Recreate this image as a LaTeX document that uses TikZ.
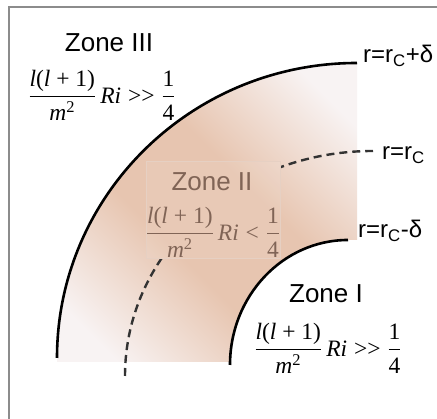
\documentclass[tikz,border=0pt]{standalone}
\usepackage{amsmath}
\usepackage{fontspec}
\setmainfont{Liberation Serif}
\newfontfamily\hv{Liberation Sans}
\definecolor{peach}{RGB}{231,197,176}
\definecolor{pale}{RGB}{248,243,243}
\definecolor{zonetwo}{RGB}{128,100,86}
\definecolor{framegray}{RGB}{140,140,140}
\definecolor{boxedge}{RGB}{230,208,195}
\pgfdeclareverticalshading{zoneband}{100bp}{color(0bp)=(pale); color(22bp)=(pale); color(42bp)=(peach); color(58bp)=(peach); color(78bp)=(pale); color(100bp)=(pale)}
\newcommand\frm[1]{$\displaystyle\frac{\text{\itshape l\/\upshape(\itshape l\/\upshape{} + 1)}}{\text{\itshape m}^{\text{2}}}\,\text{\itshape Ri}\mathrel{\text{#1}}\frac{\text{1}}{\text{4}}$}
\newcommand\bandpath{(57,57) -- (57,61) arc[start angle=180,end angle=90,x radius=300,y radius=295]
  -- (357,179) -- (348,179) arc[start angle=90,end angle=180,x radius=118,y radius=125]
  -- (230,57) -- cycle}
\begin{document}
\begin{tikzpicture}[x=1pt,y=1pt,
  zone/.style={font=\hv\fontsize{26}{30}\selectfont, inner sep=0pt},
  formula/.style={font=\fontsize{23.5}{28}\selectfont, inner sep=0pt},
  rlabel/.style={font=\hv\fontsize{24}{28}\selectfont, inner sep=0pt, anchor=base west},
  bound/.style={line width=2.6pt, black},
  midline/.style={line width=2.4pt, dash pattern=on 8pt off 5pt, black!80},
  band/.style={shading=zoneband, shading angle=-45}
]
\useasboundingbox (0,0) rectangle (437,419);
\fill[white] (0,0) rectangle (437,419);
% zone II shaded band
\shade[band] \bandpath;
% critical radius
\coordinate (cstart) at (125,43);
\draw[midline] (cstart) arc[start angle=180,end angle=90,x radius=248,y radius=225] coordinate (cend);
% zone II label box (same shading, hiding the dashed line)
\begin{scope}
  \clip (146,161) rectangle (280,258);
  \shade[band] \bandpath;
  \fill[white, opacity=0.08] (146,161) rectangle (280,258);
\end{scope}
\draw[boxedge, line width=0.5pt] (146,161) rectangle (280,258);
% boundaries
\coordinate (ostart) at (57,61);
\draw[bound] (ostart) arc[start angle=180,end angle=90,x radius=300,y radius=295] coordinate (oend);
\coordinate (istart) at (230,54);
\draw[bound] (istart) arc[start angle=180,end angle=90,x radius=118,y radius=125] coordinate (iend);
% frame
\draw[framegray, line width=2pt] (437,412) -- (9,412) -- (9,-5);
% texts
\node[zone] (z3) at (109,376) {Zone III};
\node[formula] (f3) at (102,324) {\frm{>{}>}};
\node[zone, text=zonetwo] (z2) at (212,237) {Zone II};
\node[formula, text=zonetwo] (f2) at (213,187) {\frm{<}};
\node[zone] (z1) at (326,125) {Zone I};
\node[formula] (f1) at (328,71) {\frm{>{}>}};
\node[rlabel] (l1) at (363,356) {r=r\textsubscript{C}+δ};
\node[rlabel] (l2) at (382,259) {r=r\textsubscript{C}};
\node[rlabel] (l3) at (358,181) {r=r\textsubscript{C}-δ};
\end{tikzpicture}
\end{document}
